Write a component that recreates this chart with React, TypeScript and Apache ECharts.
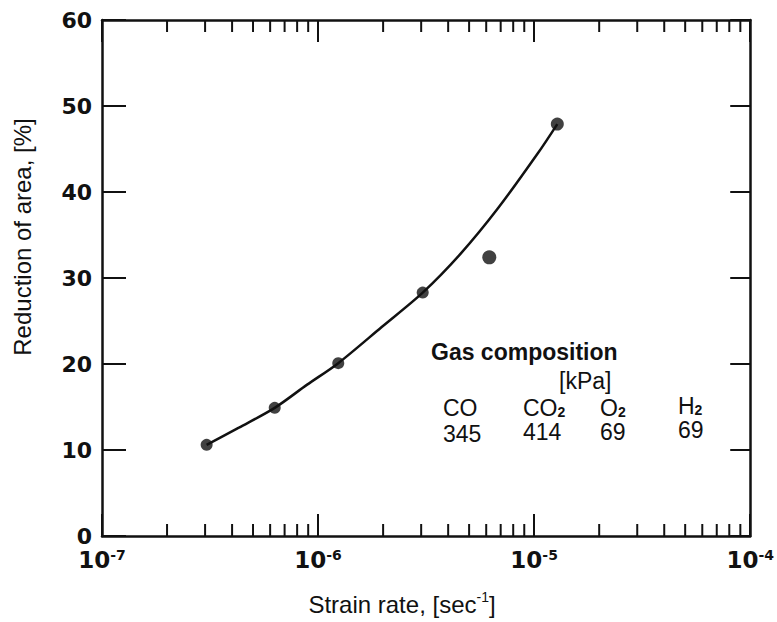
import React, { useEffect, useRef } from "react";
import * as echarts from "echarts";

// Measured points
const strainRate = [3.05e-7, 6.3e-7, 1.24e-6, 3.05e-6, 6.2e-6, 1.28e-5];
const reduction = [10.6, 14.9, 20.1, 28.3, 32.4, 47.9];
const markerSizes = [12, 12, 12, 12, 14, 13];

// Fitted curve
const curveRate = [3.05e-7, 4.3e-7, 6.3e-7, 8.9e-7, 1.24e-6, 1.97e-6, 3.05e-6, 4.56e-6, 6.8e-6, 1.04e-5, 1.28e-5];
const curveReduction = [10.6, 12.6, 14.9, 17.6, 20.1, 24.3, 28.3, 32.8, 38.1, 44.5, 47.9];

// Minor log ticks
const minorTicks = [
  2e-7, 3e-7, 4e-7, 5e-7, 6e-7, 7e-7, 8e-7, 9e-7,
  2e-6, 3e-6, 4e-6, 5e-6, 6e-6, 7e-6, 8e-6, 9e-6,
  2e-5, 3e-5, 4e-5, 5e-5, 6e-5, 7e-5, 8e-5, 9e-5,
];

const gasNames = ["CO", "CO", "O", "H"];
const gasSubs = ["", "2", "2", "2"];
const gasValues = ["345", "414", "69", "69"];

const FONT = "'Liberation Sans', Arial, Helvetica, sans-serif";
const WIDE = "'DejaVu Sans', Verdana, sans-serif";

export default function App() {
  const ref = useRef<HTMLDivElement>(null);

  useEffect(() => {
    if (!ref.current) return;
    const chart = echarts.init(ref.current, undefined, { renderer: "svg" });

    const colX = [443, 523, 600, 678];
    const nameY = [408, 408, 408, 406];
    const valY = [434, 432, 432, 430];

    const graphics: any[] = [
      {
        type: "text",
        x: 22,
        y: 237,
        rotation: Math.PI / 2,
        style: {
          text: "Reduction of area, [%]",
          fontFamily: FONT,
          fontSize: 24,
          fill: "#111",
          align: "center",
          verticalAlign: "middle",
        },
      },
      {
        type: "text",
        x: 402,
        y: 604,
        style: {
          text: "{n|Strain rate, [sec}{s|-1}{n|]}",
          align: "center",
          verticalAlign: "middle",
          rich: {
            n: { fontFamily: FONT, fontSize: 24, fill: "#111", lineHeight: 28 },
            s: { fontFamily: FONT, fontSize: 14, fill: "#111", verticalAlign: "top", lineHeight: 14 },
          },
        },
      },
      {
        type: "text",
        x: 431,
        y: 352,
        style: {
          text: "Gas composition",
          fontFamily: FONT,
          fontSize: 23,
          fontWeight: "bold",
          fill: "#111",
          align: "left",
          verticalAlign: "middle",
        },
      },
      {
        type: "text",
        x: 559,
        y: 381,
        style: {
          text: "[kPa]",
          fontFamily: FONT,
          fontSize: 23,
          lineHeight: 22,
          fill: "#111",
          align: "left",
          verticalAlign: "middle",
        },
      },
    ];

    gasNames.forEach((n, i) => {
      graphics.push({
        type: "text",
        x: colX[i],
        y: nameY[i],
        style: {
          text: gasSubs[i] ? `{n|${n}}{s|${gasSubs[i]}}` : `{n|${n}}`,
          align: "left",
          verticalAlign: "middle",
          rich: {
            n: { fontFamily: FONT, fontSize: 23, fill: "#111", lineHeight: 22 },
            s: { fontFamily: FONT, fontSize: 14, fontWeight: "bold", fill: "#111", verticalAlign: "bottom", lineHeight: 12 },
          },
        },
      });
      graphics.push({
        type: "text",
        x: colX[i],
        y: valY[i],
        style: {
          text: gasValues[i],
          fontFamily: FONT,
          fontSize: 23,
          lineHeight: 22,
          fill: "#111",
          align: "left",
          verticalAlign: "middle",
        },
      });
    });

    const axisLineStyle = { color: "#111", width: 2.5 };

    const option: any = {
      animation: false,
      backgroundColor: "#fff",
      grid: { left: 102, top: 20, right: 24, bottom: 86, containLabel: false },
      xAxis: [
        {
          type: "log",
          logBase: 10,
          min: 1e-7,
          max: 1e-4,
          position: "bottom",
          splitLine: { show: false },
          axisLine: { onZero: false, lineStyle: axisLineStyle },
          axisTick: { inside: true, length: 22, lineStyle: { color: "#111", width: 2 } },
          axisLabel: {
            margin: 12,
            formatter: (v: number) => `{b|10}{s|${Math.round(Math.log10(v))}}`,
            rich: {
              b: { fontFamily: WIDE, fontSize: 23, fontWeight: "bold", color: "#111", lineHeight: 24 },
              s: { fontFamily: WIDE, fontSize: 14, fontWeight: "bold", color: "#111", verticalAlign: "top", lineHeight: 14 },
            },
          },
        },
        {
          type: "log",
          logBase: 10,
          min: 1e-7,
          max: 1e-4,
          position: "top",
          splitLine: { show: false },
          axisLine: { show: true, onZero: false, lineStyle: axisLineStyle },
          axisTick: { show: true, inside: true, length: 22, lineStyle: { color: "#111", width: 2 } },
          axisLabel: { show: false },
        },
      ],
      yAxis: [
        {
          type: "value",
          min: 0,
          max: 60,
          interval: 10,
          position: "left",
          splitLine: { show: false },
          axisLine: { show: true, onZero: false, lineStyle: axisLineStyle },
          axisTick: { show: true, inside: true, length: 24, lineStyle: { color: "#111", width: 2 } },
          axisLabel: {
            margin: 10,
            fontFamily: WIDE,
            fontSize: 22,
            fontWeight: "bold",
            lineHeight: 16,
            color: "#111",
          },
        },
        {
          type: "value",
          min: 0,
          max: 60,
          interval: 10,
          position: "right",
          splitLine: { show: false },
          axisLine: { show: true, onZero: false, lineStyle: axisLineStyle },
          axisTick: { show: true, inside: true, length: 20, lineStyle: { color: "#111", width: 2 } },
          axisLabel: { show: false },
        },
      ],
      series: [
        {
          type: "custom",
          xAxisIndex: 0,
          yAxisIndex: 0,
          silent: true,
          clip: false,
          data: minorTicks.map((v) => [v, 0]),
          renderItem: (_params: any, api: any) => {
            const v = api.value(0);
            const b = api.coord([v, 0]);
            const t = api.coord([v, 60]);
            return {
              type: "group",
              children: [
                { type: "line", shape: { x1: b[0], y1: b[1], x2: b[0], y2: b[1] - 12 }, style: { stroke: "#111", lineWidth: 2 } },
                { type: "line", shape: { x1: t[0], y1: t[1], x2: t[0], y2: t[1] + 12 }, style: { stroke: "#111", lineWidth: 2 } },
              ],
            };
          },
        },
        {
          type: "line",
          xAxisIndex: 0,
          yAxisIndex: 0,
          smooth: 0.3,
          symbol: "none",
          lineStyle: { color: "#111", width: 2.5 },
          data: curveRate.map((x, i) => [x, curveReduction[i]]),
        },
        {
          type: "scatter",
          xAxisIndex: 0,
          yAxisIndex: 0,
          itemStyle: { color: "#111" },
          data: strainRate.map((x, i) => ({ value: [x, reduction[i]], symbolSize: markerSizes[i] })),
        },
        {
          type: "line",
          xAxisIndex: 1,
          yAxisIndex: 1,
          symbol: "none",
          silent: true,
          lineStyle: { opacity: 0 },
          data: [[1e-7, 0]],
        },
      ],
      graphic: graphics,
    };

    chart.setOption(option);
    return () => chart.dispose();
  }, []);

  return <div ref={ref} style={{ position: "absolute", left: 0, top: 0, width: 777, height: 622 }} />;
}
